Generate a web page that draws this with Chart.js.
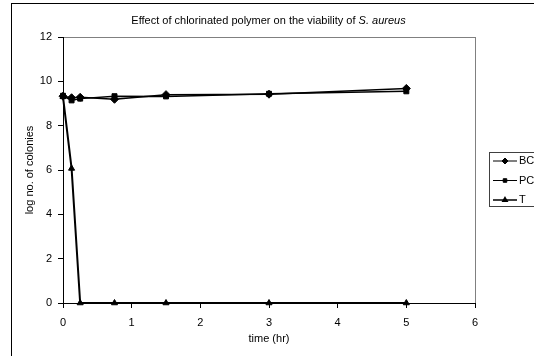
<!DOCTYPE html>
<html>
<head>
<meta charset="utf-8">
<script src="https://cdn.jsdelivr.net/npm/chart.js@4/dist/chart.umd.min.js"></script>
<style>
  html, body { margin: 0; padding: 0; background: #fff; }
</style>
</head>
<body>
<canvas id="chart" width="534" height="356"></canvas>
<script>
// data
const hours = [0, 0.125, 0.25, 0.75, 1.5, 3, 5];
const bcValues = [9.33, 9.26, 9.28, 9.19, 9.4, 9.42, 9.68];
const pcValues = [9.35, 9.14, 9.22, 9.33, 9.32, 9.44, 9.55];
const tValues = [9.3, 6.07, 0, 0, 0, 0, 0];
const seriesNames = ['BC', 'PC', 'T'];
const seriesMarkers = ['rectRot', 'rect', 'triangle'];
const titleText = 'Effect of chlorinated polymer on the viability of ';
const titleItalic = 'S. aureus';
const xTitle = 'time (hr)';
const yTitle = 'log no. of colonies';

const FONT = "'Liberation Sans', Arial, sans-serif";

function points(vals) {
  return hours.map((h, i) => ({ x: h, y: vals[i] }));
}

const seriesValues = [bcValues, pcValues, tValues];

const datasets = seriesNames.map((name, i) => ({
  label: name,
  data: points(seriesValues[i]),
  borderColor: '#000',
  backgroundColor: '#000',
  borderWidth: i == 2 ? 2 : 1.5,
  pointStyle: seriesMarkers[i],
  pointRadius: i == 0 ? 4 : 3.5,
  pointBorderWidth: 1,
  tension: 0,
  clip: false
}));

// frame, title and legend like the old excel chart
const decorations = {
  id: 'decorations',
  beforeDraw(chart) {
    const ctx = chart.ctx;
    const a = chart.chartArea;
    ctx.save();
    ctx.fillStyle = '#fff';
    ctx.fillRect(0, 0, chart.width, chart.height);
    // outer chart border (runs off the right/bottom edge)
    ctx.strokeStyle = '#000';
    ctx.lineWidth = 1;
    ctx.strokeRect(11.5, 3.5, chart.width + 20, chart.height + 20);
    // plot area frame
    ctx.strokeStyle = '#808080';
    ctx.strokeRect(a.left + 0.5, a.top + 0.5, a.right - a.left, a.bottom - a.top);
    ctx.restore();
  },
  afterDraw(chart) {
    const ctx = chart.ctx;
    ctx.save();
    // title with italic species name
    ctx.fillStyle = '#000';
    ctx.textBaseline = 'middle';
    ctx.font = '11px ' + FONT;
    const w1 = ctx.measureText(titleText).width;
    ctx.font = 'italic 11px ' + FONT;
    const w2 = ctx.measureText(titleItalic).width;
    let x = 268.5 - (w1 + w2) / 2;
    ctx.font = '11px ' + FONT;
    ctx.fillText(titleText, x, 21);
    ctx.font = 'italic 11px ' + FONT;
    ctx.fillText(titleItalic, x + w1, 21);

    // legend box
    ctx.strokeStyle = '#404040';
    ctx.lineWidth = 1;
    ctx.strokeRect(489.5, 152.5, 60, 54);
    const rows = [161, 180.5, 200];
    chart.data.datasets.forEach((ds, i) => {
      const y = rows[i];
      ctx.strokeStyle = '#000';
      ctx.lineWidth = ds.borderWidth - 0.5;
      ctx.beginPath();
      ctx.moveTo(493, y);
      ctx.lineTo(517, y);
      ctx.stroke();
      ctx.fillStyle = '#000';
      Chart.helpers.drawPoint(ctx, {
        pointStyle: ds.pointStyle,
        radius: i == 0 ? 3 : 2.5,
        rotation: 0,
        borderWidth: 1
      }, 505, y);
      ctx.fillStyle = '#000';
      ctx.font = '11px ' + FONT;
      ctx.textBaseline = 'middle';
      ctx.fillText(ds.label, 519, y);
    });
    ctx.restore();
  }
};

new Chart(document.getElementById('chart'), {
  type: 'line',
  data: { datasets: datasets },
  plugins: [decorations],
  options: {
    responsive: false,
    animation: false,
    devicePixelRatio: 1,
    layout: { padding: { top: 37, right: 59, bottom: 0, left: 0 } },
    plugins: {
      legend: { display: false },
      title: { display: false },
      tooltip: { enabled: false }
    },
    scales: {
      x: {
        type: 'linear',
        min: 0,
        max: 6,
        afterFit: (s) => { s.height = 53; },
        ticks: { stepSize: 1, color: '#000', padding: 8, font: { family: FONT, size: 11 } },
        grid: { drawOnChartArea: false, tickLength: 5, color: '#000' },
        border: { color: '#000', width: 1 },
        title: { display: true, text: xTitle, color: '#000', padding: { top: 0, bottom: 10 }, font: { family: FONT, size: 11 } }
      },
      y: {
        min: 0,
        max: 12,
        afterFit: (s) => { s.width = 63; },
        ticks: { stepSize: 2, color: '#000', padding: 6, font: { family: FONT, size: 11 } },
        grid: { drawOnChartArea: false, tickLength: 5, color: '#000' },
        border: { color: '#000', width: 1 },
        title: { display: true, text: yTitle, color: '#000', padding: { top: 23, bottom: 0 }, font: { family: FONT, size: 11 } }
      }
    }
  }
});
</script>
</body>
</html>
